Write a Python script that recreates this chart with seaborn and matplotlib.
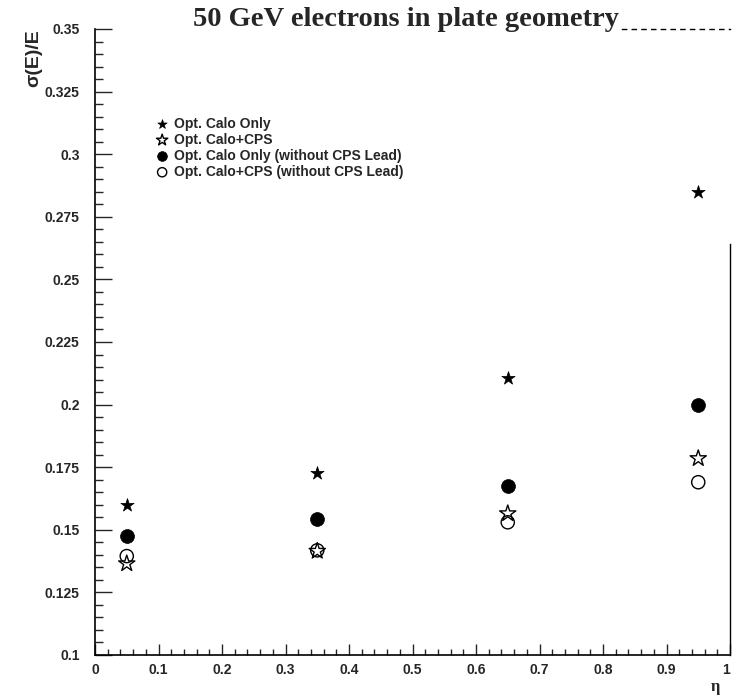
import matplotlib
matplotlib.use("Agg")
import matplotlib.pyplot as plt
import seaborn as sns
import numpy as np
from matplotlib.ticker import MultipleLocator, FixedFormatter, FixedLocator

eta = [0.05, 0.35, 0.65, 0.95]
calo_only = [0.160, 0.1725, 0.2105, 0.285]
calo_cps = [0.1365, 0.1415, 0.1565, 0.1785]
calo_only_nolead = [0.1475, 0.1545, 0.1675, 0.200]
calo_cps_nolead = [0.1395, 0.1418, 0.1530, 0.1690]

labels = ["Opt. Calo Only", "Opt. Calo+CPS",
          "Opt. Calo Only (without CPS Lead)", "Opt. Calo+CPS (without CPS Lead)"]
title = "50 GeV electrons in plate geometry"
xticks = [0, 0.1, 0.2, 0.3, 0.4, 0.5, 0.6, 0.7, 0.8, 0.9, 1]
xticklabels = ["0", "0.1", "0.2", "0.3", "0.4", "0.5", "0.6", "0.7", "0.8", "0.9", "1"]
yticks = [0.1, 0.125, 0.15, 0.175, 0.2, 0.225, 0.25, 0.275, 0.3, 0.325, 0.35]
yticklabels = ["0.1", "0.125", "0.15", "0.175", "0.2", "0.225", "0.25", "0.275", "0.3", "0.325", "0.35"]

sns.set_theme(style="ticks")
plt.rcParams["font.family"] = ["Liberation Sans", "DejaVu Sans"]

fig = plt.figure(figsize=(7.32, 6.97), dpi=100)
ax = fig.add_axes([95/732, 42/697, 635/732, 626/697])

sns.scatterplot(x=eta, y=calo_only, marker="*", s=100, color="black",
                edgecolor="black", linewidth=0.5, ax=ax, label=labels[0], zorder=3)
sns.scatterplot(x=eta, y=calo_cps, marker="*", s=150, facecolor="none",
                edgecolor="black", linewidth=1.0, ax=ax, label=labels[1], zorder=3)
sns.scatterplot(x=eta, y=calo_only_nolead, marker="o", s=100, color="black",
                edgecolor="black", linewidth=0.5, ax=ax, label=labels[2], zorder=3)
sns.scatterplot(x=eta, y=calo_cps_nolead, marker="o", s=90, facecolor="none",
                edgecolor="black", linewidth=1.0, ax=ax, label=labels[3], zorder=3)

ax.set_xlim(0, 1)
ax.set_ylim(0.1, 0.35)
ax.xaxis.set_major_locator(FixedLocator(xticks))
ax.xaxis.set_major_formatter(FixedFormatter(xticklabels))
ax.yaxis.set_major_locator(FixedLocator(yticks))
ax.yaxis.set_major_formatter(FixedFormatter(yticklabels))
ax.xaxis.set_minor_locator(MultipleLocator(0.02))
ax.yaxis.set_minor_locator(MultipleLocator(0.005))

ax.tick_params(axis="x", which="major", direction="in", length=8, width=1, pad=6,
               labelsize=10)
ax.tick_params(axis="x", which="minor", direction="in", length=4, width=1)
ax.tick_params(axis="y", which="major", direction="in", length=12, width=1, pad=11,
               labelsize=10)
ax.tick_params(axis="y", which="minor", direction="in", length=6, width=1)
for lab in ax.get_xticklabels() + ax.get_yticklabels():
    lab.set_fontweight("bold")
ax.get_xticklabels()[-1].set_horizontalalignment("right")

for side in ["left", "bottom"]:
    ax.spines[side].set_linewidth(1.2)
    ax.spines[side].set_color("black")
ax.spines["right"].set_bounds(0.1, 0.264)
ax.spines["right"].set_linewidth(1.0)
ax.spines["right"].set_color("black")
ax.spines["top"].set_bounds(0.83, 1.0)
ax.spines["top"].set_linestyle((0, (3, 4)))
ax.spines["top"].set_linewidth(1.0)
ax.spines["top"].set_color("black")

ax.set_ylabel("σ(E)/E", loc="top", fontsize=14, fontweight="bold")
ax.yaxis.set_label_coords(-0.083, 1.0)
ax.set_xlabel("η", loc="right", fontsize=12, fontweight="bold",
              family=["Liberation Serif", "DejaVu Serif"])
ax.xaxis.set_label_coords(0.985, -0.038)

fig.text(406/732, 1 - 19/697, title, ha="center", va="center", fontsize=20.5,
         fontweight="bold", family=["Liberation Serif", "DejaVu Serif"])

leg = ax.legend(loc="upper left", bbox_to_anchor=(0.097, 0.86), frameon=False,
                fontsize=10, handlelength=0.8, handletextpad=0.45, labelspacing=0.15,
                borderpad=0, borderaxespad=0, markerscale=0.7)
for t in leg.get_texts():
    t.set_fontweight("bold")

ax.set_facecolor("white")
fig.patch.set_facecolor("white")
fig.savefig("out.png", dpi=100, facecolor="white")
